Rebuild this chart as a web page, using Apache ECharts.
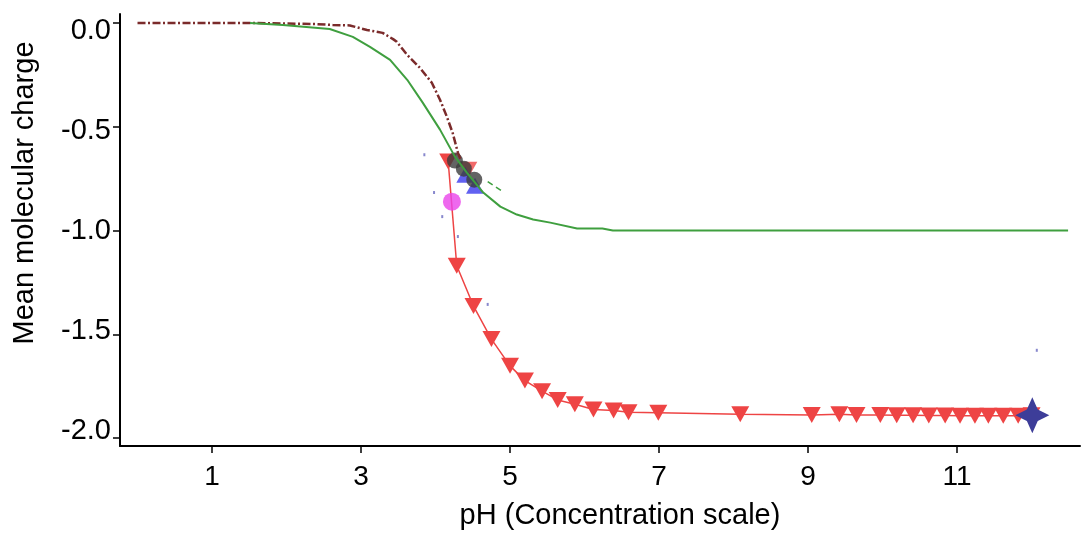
<!DOCTYPE html>
<html>
<head>
<meta charset="utf-8">
<script src="https://cdn.jsdelivr.net/npm/echarts@6/dist/echarts.min.js"></script>
<style>
  html, body { margin: 0; padding: 0; background: #fff; }
  #chart { width: 1081px; height: 535px; }
</style>
</head>
<body>
<div id="chart"></div>
<script>
// tick labels
const xTicks = [1, 3, 5, 7, 9, 11];
const yTicks = [0, -0.5, -1, -1.5, -2];

// dark red dash-dot curve
const phDashDot = [0, 1.51, 2.36, 2.62, 2.85, 3.08, 3.29, 3.43, 3.48, 3.62, 3.79, 3.95, 4.06, 4.15, 4.23, 4.30, 4.34];
const chargeDashDot = [0, 0, -0.005, -0.01, -0.012, -0.034, -0.048, -0.078, -0.091, -0.154, -0.216, -0.288, -0.37, -0.45, -0.53, -0.625, -0.66];

// green curve
const phGreen = [1.51, 1.95, 2.58, 2.89, 3.12, 3.39, 3.62, 3.83, 4.06, 4.26, 4.42, 4.64, 4.87, 5.09, 5.31, 5.54, 5.90, 6.24, 6.38, 12.49];
const chargeGreen = [0, -0.01, -0.029, -0.067, -0.115, -0.178, -0.274, -0.385, -0.514, -0.644, -0.721, -0.817, -0.885, -0.923, -0.947, -0.962, -0.99, -0.99, -1.0, -1.0];

// short green dashed piece
const phGreenDash = [4.70, 4.89];
const chargeGreenDash = [-0.764, -0.81];

// red titration points
const phRed = [4.17, 4.285, 4.51, 4.75, 5.00, 5.20, 5.43, 5.64, 5.87, 6.12, 6.39, 6.59, 6.99, 8.09, 9.05, 9.42, 9.65, 9.97, 10.19, 10.41, 10.62, 10.84, 11.04, 11.24, 11.42, 11.62, 11.82, 12.0];
const chargeRed = [-0.668, -1.170, -1.364, -1.523, -1.652, -1.723, -1.774, -1.816, -1.837, -1.862, -1.867, -1.875, -1.878, -1.885, -1.889, -1.885, -1.889, -1.889, -1.89, -1.89, -1.891, -1.891, -1.892, -1.892, -1.892, -1.892, -1.892, -1.89];
const phRedExtra = [4.44];
const chargeRedExtra = [-0.707];

// dark circles
const phCircle = [4.26, 4.38, 4.52];
const chargeCircle = [-0.663, -0.702, -0.755];

// blue triangles
const phBlue = [4.40, 4.53];
const chargeBlue = [-0.731, -0.784];

// magenta circle
const phMagenta = [4.22];
const chargeMagenta = [-0.861];

// star
const phStar = [12.01];
const chargeStar = [-1.89];

// tiny specks
const phSpeck = [3.85, 3.98, 4.09, 4.30, 4.70, 12.07];
const chargeSpeck = [-0.635, -0.817, -0.933, -1.029, -1.356, -1.577];

function pairs(xs, ys) {
  return xs.map((x, i) => [x, ys[i]]);
}

const FONT = '"Liberation Sans", Arial, sans-serif';
const STAR = 'path://M0,-10 L3.2,-3.2 L10,0 L3.2,3.2 L0,10 L-3.2,3.2 L-10,0 L-3.2,-3.2 Z';

function initChart(inst) {
  const option = {
    animation: false,
    backgroundColor: '#fff',
    textStyle: { fontFamily: FONT },
    grid: {
      left: 120,
      right: 1,
      top: 14,
      bottom: 88,
    },
    xAxis: {
      type: 'value',
      min: -0.235,
      max: 12.65,
      name: 'pH (Concentration scale)',
      nameLocation: 'middle',
      nameGap: 55,
      nameTextStyle: {
        color: '#000',
        fontSize: 29,
        fontFamily: FONT,
        padding: [0, 0, 0, 40],
      },
      axisLine: { onZero: false, lineStyle: { color: '#000', width: 2 } },
      axisTick: {
        inside: false,
        length: 7,
        customValues: xTicks,
        lineStyle: { color: '#000', width: 1.5 },
      },
      axisLabel: {
        customValues: xTicks,
        margin: 17,
        color: '#000',
        fontSize: 28,
        fontFamily: FONT,
      },
      splitLine: { show: false },
    },
    yAxis: [
      {
        type: 'value',
        position: 'left',
        min: -2.038,
        max: 0.043,
        name: 'Mean molecular charge',
        nameLocation: 'middle',
        nameRotate: 90,
        nameGap: 81,
        nameTextStyle: {
          color: '#000',
          fontSize: 29,
          fontFamily: FONT,
          padding: [0, 0, 0, 74],
        },
        axisLine: { onZero: false, lineStyle: { color: '#000', width: 2 } },
        axisTick: {
          inside: false,
          length: 7,
          customValues: yTicks,
          lineStyle: { color: '#000', width: 1.5 },
        },
        axisLabel: { show: false },
        splitLine: { show: false },
      },
      {
        // labels sit on a slightly tighter scale than the ticks
        type: 'value',
        position: 'left',
        min: -2.075,
        max: 0.085,
        axisLine: { show: false },
        axisTick: { show: false },
        axisLabel: {
          customValues: yTicks,
          margin: 9,
          color: '#000',
          fontSize: 29,
          fontFamily: FONT,
          formatter: v => v.toFixed(1),
        },
        splitLine: { show: false },
      },
    ],
    series: [
      {
        type: 'line',
        data: pairs(phRed, chargeRed),
        z: 2,
        symbol: 'triangle',
        symbolRotate: 180,
        symbolSize: [18, 16],
        showAllSymbol: true,
        lineStyle: { color: '#ee4444', width: 1.5 },
        itemStyle: { color: '#ee4444' },
      },
      {
        type: 'scatter',
        data: pairs(phRedExtra, chargeRedExtra),
        z: 2,
        symbol: 'triangle',
        symbolRotate: 180,
        symbolSize: [18, 16],
        itemStyle: { color: '#ee4444' },
      },
      {
        type: 'scatter',
        data: pairs(phMagenta, chargeMagenta),
        z: 3,
        symbol: 'circle',
        symbolSize: 18,
        itemStyle: { color: '#ea44ea' },
      },
      {
        type: 'scatter',
        data: pairs(phBlue, chargeBlue),
        z: 3,
        symbol: 'triangle',
        symbolSize: [18, 16],
        itemStyle: { color: '#3a3aee' },
      },
      {
        type: 'scatter',
        data: pairs(phCircle, chargeCircle),
        z: 4,
        symbol: 'circle',
        symbolSize: 16,
        itemStyle: { color: '#3c3c3c' },
      },
      {
        type: 'line',
        data: pairs(phDashDot, chargeDashDot),
        z: 5,
        symbol: 'none',
        lineStyle: { color: '#7b2b2b', width: 2.5, type: [8, 2.5, 2, 2.5] },
      },
      {
        type: 'line',
        data: pairs(phGreen, chargeGreen),
        z: 6,
        symbol: 'none',
        lineStyle: { color: '#3f9f3f', width: 2 },
      },
      {
        type: 'line',
        data: pairs(phGreenDash, chargeGreenDash),
        z: 6,
        symbol: 'none',
        lineStyle: { color: '#3f9f3f', width: 1.5, type: [6, 4] },
      },
      {
        type: 'scatter',
        data: pairs(phSpeck, chargeSpeck),
        z: 6,
        symbol: 'rect',
        symbolSize: [2, 3],
        itemStyle: { color: '#6a6ac0' },
      },
      {
        type: 'scatter',
        data: pairs(phStar, chargeStar),
        z: 7,
        symbol: STAR,
        symbolSize: [34, 36],
        itemStyle: { color: '#3d3d99', opacity: 1 },
      },
    ],
  };
  inst.setOption(option);
}

const chart = echarts.init(document.getElementById('chart'));
initChart(chart);
</script>
</body>
</html>
